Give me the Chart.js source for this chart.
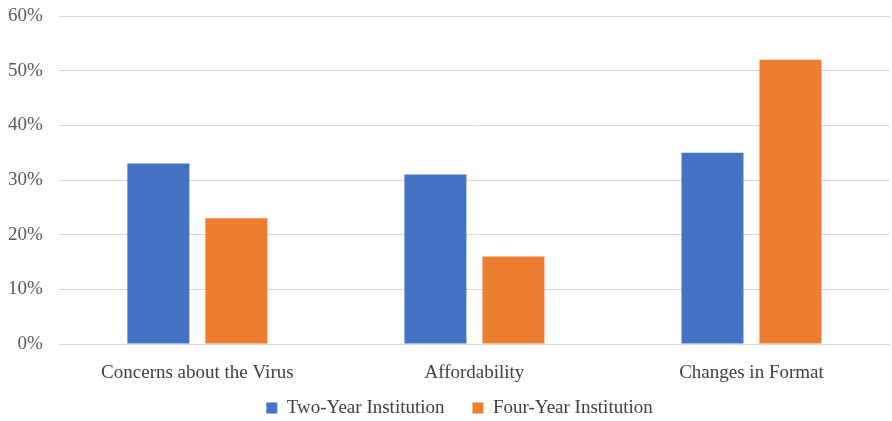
<!DOCTYPE html>
<html>
<head>
<meta charset="utf-8">
<script src="https://cdn.jsdelivr.net/npm/chart.js@4/dist/chart.umd.min.js"></script>
<style>
  html, body { margin: 0; padding: 0; background: #fff; }
  #wrap { width: 892px; height: 421px; }
</style>
</head>
<body>
<div id="wrap"><canvas id="barChart"></canvas></div>
<script>
// data
const categories = ["Concerns about the Virus", "Affordability", "Changes in Format"];
const twoYear = [33, 31, 35];
const fourYear = [23, 16, 52];
const yTicks = [0, 10, 20, 30, 40, 50, 60];

const serif = "'Liberation Serif', 'DejaVu Serif', serif";

// nudge the legend a bit right and up after layout
const legendShift = {
  id: "legendShift",
  afterLayout(chart) {
    const lg = chart.legend;
    const pad = lg.options.labels.padding;
    const dx = 10.5;
    const dy = (408 - pad - 9.5) - lg.top;
    lg.left += dx; lg.right += dx;
    lg.top += dy; lg.bottom += dy;
  }
};

new Chart("barChart", {
  type: "bar",
  data: {
    labels: categories,
    datasets: [{
      label: "Two-Year Institution",
      data: twoYear,
      backgroundColor: "#4472C4"
    }, {
      label: "Four-Year Institution",
      data: fourYear,
      backgroundColor: "#ED7D31"
    }]
  },
  options: {
    responsive: true,
    maintainAspectRatio: false,
    animation: false,
    layout: { padding: { top: 16, right: 2, left: 8, bottom: -20.4 } },
    datasets: {
      bar: { categoryPercentage: 0.563, barPercentage: 0.795 }
    },
    scales: {
      y: {
        min: 0,
        max: 60,
        afterBuildTicks: function(axis) {
          axis.ticks = yTicks.map(v => ({ value: v }));
        },
        ticks: {
          callback: v => v + "%",
          color: "#595959",
          font: { family: serif, size: 19 },
          padding: 0
        },
        grid: { color: "#d9d9d9", drawTicks: true, tickLength: 16, tickColor: "rgba(0,0,0,0)" },
        border: { display: false }
      },
      x: {
        ticks: {
          color: "#404040",
          font: { family: serif, size: 19 },
          padding: 0
        },
        grid: { color: "rgba(0,0,0,0)", drawTicks: true, tickLength: 17.6 },
        border: { display: false }
      }
    },
    plugins: {
      legend: {
        position: "bottom",
        labels: {
          color: "#404040",
          font: { family: serif, size: 19 },
          boxWidth: 11,
          boxHeight: 11,
          padding: 28
        }
      },
      tooltip: { enabled: false }
    }
  },
  plugins: [legendShift]
});
</script>
</body>
</html>
